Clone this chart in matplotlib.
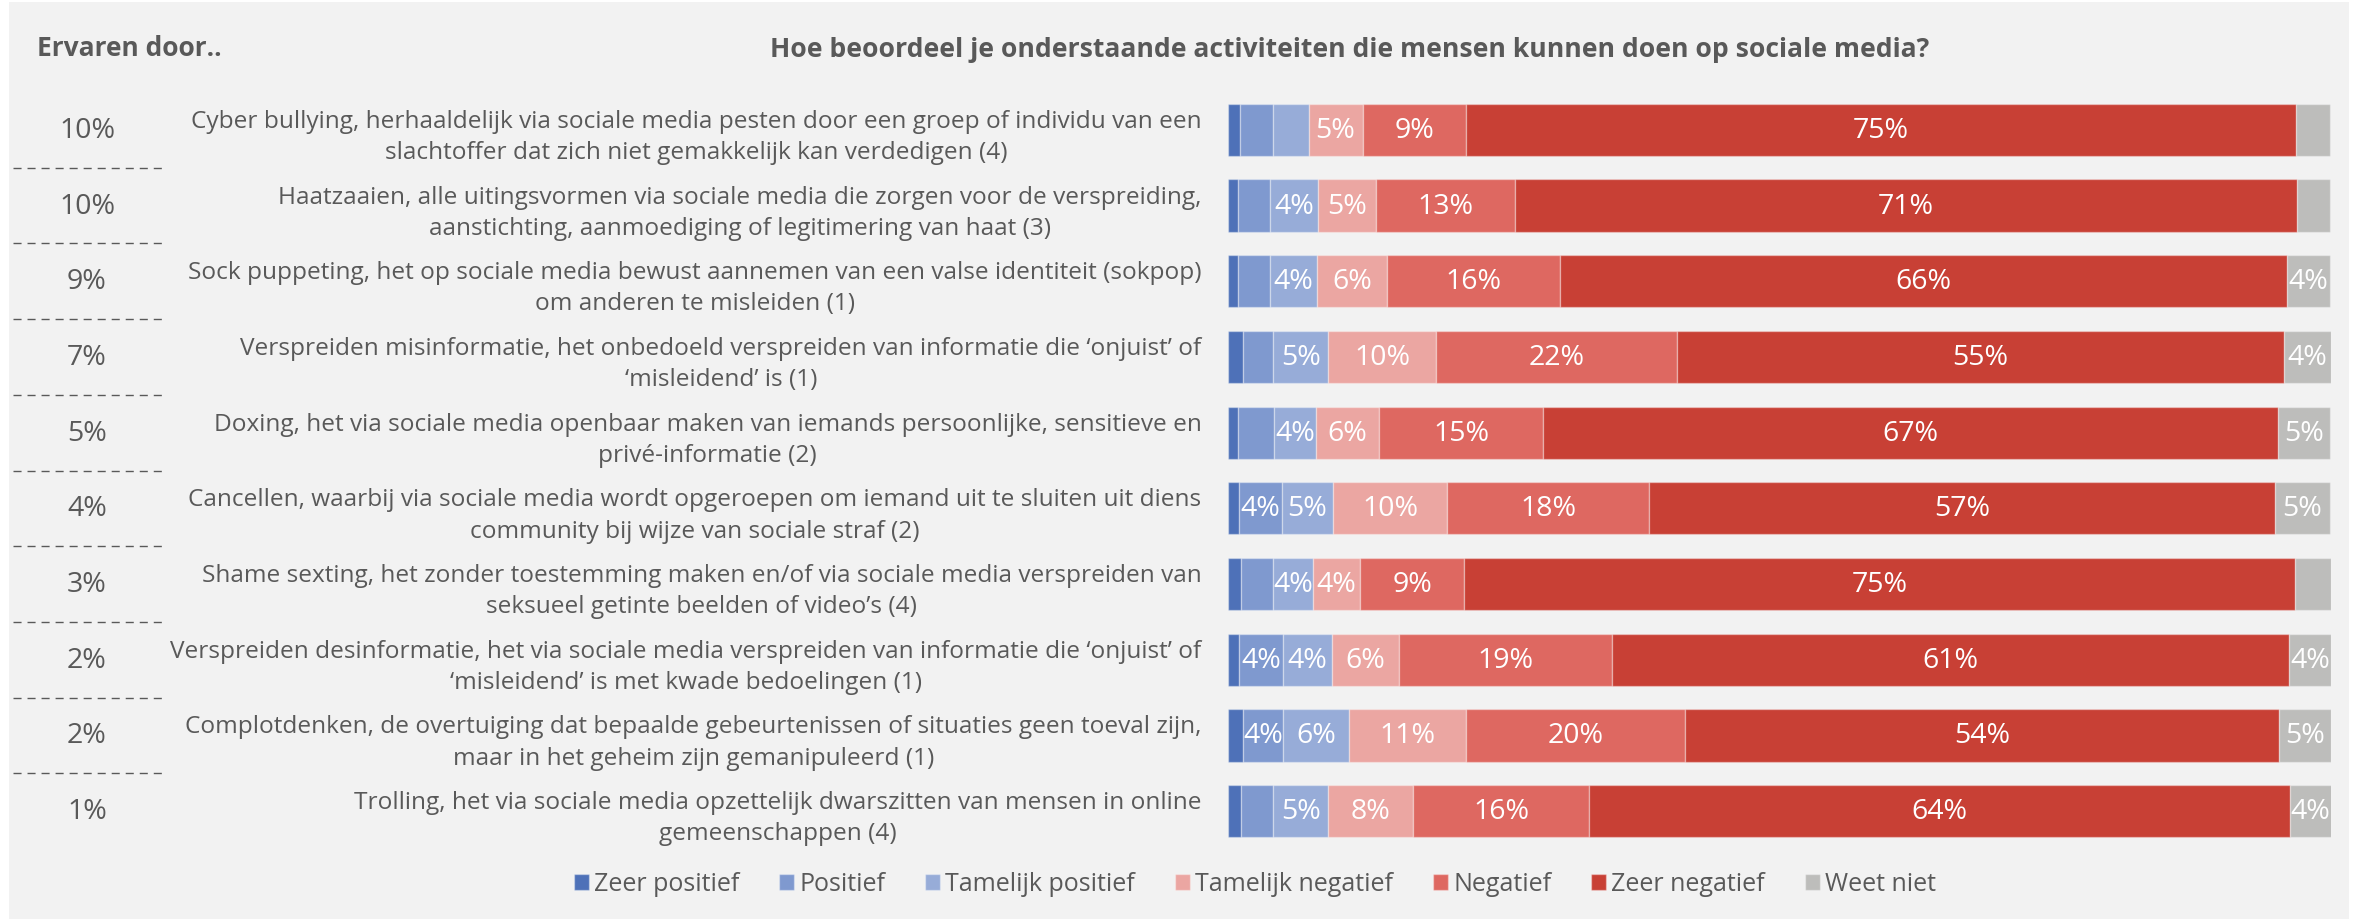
import matplotlib
matplotlib.use('Agg')
import matplotlib.pyplot as plt
import matplotlib.transforms as mtransforms
from matplotlib.patches import Rectangle
from matplotlib.lines import Line2D

plt.rcParams['font.family'] = ['Open Sans', 'DejaVu Sans']
plt.rcParams['lines.scale_dashes'] = False

TEXT_COLOR = '#595959'
BG_COLOR = '#f2f2f2'

activities = [
	'Cyber bullying, herhaaldelijk via sociale media pesten door een groep of individu van een\nslachtoffer dat zich niet gemakkelijk kan verdedigen (4)',
	'Haatzaaien, alle uitingsvormen via sociale media die zorgen voor de verspreiding,\naanstichting, aanmoediging of legitimering van haat (3)',
	'Sock puppeting, het op sociale media bewust aannemen van een valse identiteit (sokpop)\nom anderen te misleiden (1)',
	'Verspreiden misinformatie, het onbedoeld verspreiden van informatie die \u2018onjuist\u2019 of\n\u2018misleidend\u2019 is (1)',
	'Doxing, het via sociale media openbaar maken van iemands persoonlijke, sensitieve en\nprivé-informatie (2)',
	'Cancellen, waarbij via sociale media wordt opgeroepen om iemand uit te sluiten uit diens\ncommunity bij wijze van sociale straf (2)',
	'Shame sexting, het zonder toestemming maken en/of via sociale media verspreiden van\nseksueel getinte beelden of video\u2019s (4)',
	'Verspreiden desinformatie, het via sociale media verspreiden van informatie die \u2018onjuist\u2019 of\n\u2018misleidend\u2019 is met kwade bedoelingen (1)',
	'Complotdenken, de overtuiging dat bepaalde gebeurtenissen of situaties geen toeval zijn,\nmaar in het geheim zijn gemanipuleerd (1)',
	'Trolling, het via sociale media opzettelijk dwarszitten van mensen in online\ngemeenschappen (4)',
]

# "Ervaren door.." column
experienced = [10, 10, 9, 7, 5, 4, 3, 2, 2, 1]

# answer shares in %, one list per answer, rows in the order above
zeer_positief = [1.1, 0.9, 0.9, 1.4, 0.9, 1.0, 1.2, 1.0, 1.4, 1.2]
positief = [3.0, 2.9, 2.9, 2.7, 3.3, 3.9, 2.9, 4.0, 3.6, 2.9]
tamelijk_positief = [3.2, 4.4, 4.3, 5.0, 3.8, 4.6, 3.6, 4.4, 6.0, 5.0]
tamelijk_negatief = [4.9, 5.2, 6.3, 9.8, 5.7, 10.4, 4.3, 6.1, 10.6, 7.7]
negatief = [9.4, 12.6, 15.7, 21.8, 14.9, 18.3, 9.4, 19.3, 19.8, 15.9]
zeer_negatief = [75.2, 70.9, 65.9, 55.0, 66.6, 56.7, 75.3, 61.4, 53.9, 63.6]
weet_niet = [3.1, 3.0, 3.9, 4.3, 4.7, 5.0, 3.3, 3.8, 4.7, 3.8]

answers = ['Zeer positief', 'Positief', 'Tamelijk positief', 'Tamelijk negatief',
	'Negatief', 'Zeer negatief', 'Weet niet']
series = [zeer_positief, positief, tamelijk_positief, tamelijk_negatief,
	negatief, zeer_negatief, weet_niet]
colors = ['#4e71b8', '#7f99cf', '#97acd8', '#eba6a2', '#de6861', '#c84035', '#bdbdbb']

W, H = 2356, 920
fig = plt.figure(figsize=(W / 100, H / 100), dpi=100, facecolor='white')

# grey panel behind everything
fig.patches.append(Rectangle((9 / W, 0), (2349 - 9) / W, 1 - 3 / H,
	transform=fig.transFigure, facecolor=BG_COLOR, edgecolor='none', zorder=-10))

ax = fig.add_axes([1228 / W, 1 - 850 / H, (2331 - 1228) / W, (850 - 93) / H])
ax.set_facecolor('none')

rows = list(range(len(activities)))
left = [0.0] * len(activities)
for name, values, color in zip(answers, series, colors):
	bars = ax.barh(rows, values, left=left, height=0.69, color=color,
		edgecolor=(1, 1, 1, 0.35), linewidth=1, label=name)
	labels = [f'{round(v)}%' if round(v) >= 4 else '' for v in values]
	ax.bar_label(bars, labels=labels, label_type='center', color='white', fontsize=20.5)
	left = [a + b for a, b in zip(left, values)]

ax.set_xlim(0, 100)
ax.set_ylim(len(activities) - 0.5, -0.5)
ax.set_yticks(rows)
ax.set_yticklabels(activities, fontsize=17.6, color=TEXT_COLOR,
	multialignment='center', linespacing=1.4)
ax.tick_params(axis='y', length=0, pad=19)
ax.set_xticks([])
for spine in ax.spines.values():
	spine.set_visible(False)

# left column: x in figure, y in rows
trans = mtransforms.blended_transform_factory(fig.transFigure, ax.transData)
for i, pct in enumerate(experienced):
	ax.text(87 / W, i, f'{pct}%', transform=trans, ha='center', va='center',
		fontsize=20.5, color=TEXT_COLOR)
	if i < len(experienced) - 1:
		ax.add_line(Line2D([13 / W, 164 / W], [i + 0.5, i + 0.5], transform=trans,
			color=TEXT_COLOR, linewidth=1, linestyle=(0, (5.8, 4.3)), clip_on=False))

fig.text(129 / W, 1 - 48 / H, 'Ervaren door..', ha='center', va='center',
	fontsize=19, fontweight='bold', color=TEXT_COLOR)
fig.text(1350 / W, 1 - 50 / H,
	'Hoe beoordeel je onderstaande activiteiten die mensen kunnen doen op sociale media?',
	ha='center', va='center', fontsize=19.1, fontweight='bold', color=TEXT_COLOR)

leg = fig.legend(loc='center', bbox_to_anchor=(1255 / W, 1 - 885 / H), ncol=7,
	frameon=False, fontsize=18, handlelength=0.6, handleheight=0.6,
	handletextpad=0.2, columnspacing=1.6)
for t in leg.get_texts():
	t.set_color(TEXT_COLOR)

fig.savefig('out.png', dpi=100, facecolor=fig.get_facecolor())
